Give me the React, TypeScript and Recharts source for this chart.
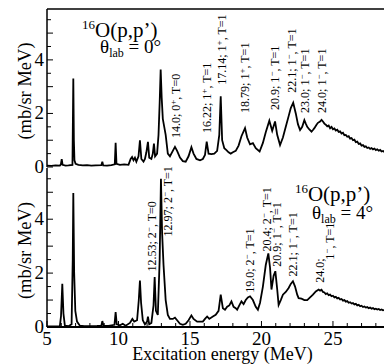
import { Line, LineChart, ReferenceDot, ReferenceLine, XAxis, YAxis } from "recharts";

// 16O(p,p') spectrum, theta_lab = 0 deg
const topEnergy = [
  5.0, 5.3, 5.6, 5.9, 5.97, 6.03, 6.09, 6.3, 6.5, 6.78, 6.84, 6.88, 6.92, 7.0, 7.2, 7.5, 7.8, 8.1, 8.4,
  8.8, 8.87, 8.93, 9.2, 9.5, 9.74, 9.8, 9.86, 10.1, 10.4, 10.7, 10.85, 10.95, 11.05, 11.15, 11.25, 11.4,
  11.5, 11.6, 11.75, 11.85, 11.95, 12.06, 12.15, 12.3, 12.4, 12.48, 12.56, 12.7, 12.8, 12.88, 12.95,
  13.02, 13.1, 13.2, 13.3, 13.45, 13.6, 13.8, 13.95, 14.1, 14.3, 14.5, 14.7, 14.9, 15.1, 15.25, 15.45,
  15.7, 15.9, 16.05, 16.17, 16.3, 16.5, 16.7, 16.9, 17.05, 17.15, 17.25, 17.4, 17.55, 17.7, 17.85, 18.0,
  18.2, 18.4, 18.6, 18.85, 19.0, 19.2, 19.4, 19.6, 19.87, 20.1, 20.3, 20.55, 20.75, 20.95, 21.1, 21.3,
  21.5, 21.7, 21.9, 22.05, 22.22, 22.4, 22.55, 22.7, 22.85, 23.0, 23.1, 23.2, 23.35, 23.5, 23.6, 23.7,
  23.85, 23.95, 24.1, 24.2, 24.3, 24.4, 24.5, 24.6, 24.7, 24.8, 24.9, 25.0, 25.1, 25.2, 25.3, 25.4,
  25.5, 25.6, 25.7, 25.8, 25.9, 26.0, 26.1, 26.2, 26.3, 26.4, 26.5, 26.6, 26.7, 26.8, 26.9, 27.0, 27.1,
  27.2, 27.3, 27.4, 27.5, 27.6, 27.7, 27.8, 27.9, 28.0, 28.1, 28.2, 28.3, 28.4, 28.5, 28.6,
];
const topYield = [
  0.05, 0.04, 0.06, 0.05, 0.1, 0.29, 0.08, 0.05, 0.06, 0.08, 3.3, 1.0, 0.25, 0.12, 0.08, 0.06, 0.07, 0.05, 0.06,
  0.07, 0.2, 0.06, 0.05, 0.07, 0.1, 0.9, 0.12, 0.08, 0.1, 0.08, 0.3, 0.37, 0.25, 0.35, 0.2, 0.4,
  1.0, 0.3, 0.2, 0.3, 0.55, 0.94, 0.35, 0.3, 0.5, 0.87, 0.4, 0.5, 1.2, 2.4, 3.64,
  2.6, 1.8, 1.5, 1.2, 0.5, 0.4, 0.6, 0.75, 0.6, 0.35, 0.22, 0.2, 0.4, 0.74, 0.5, 0.3,
  0.25, 0.3, 0.45, 0.95, 0.5, 0.48, 0.5, 0.6, 1.2, 2.64, 1.0, 0.7, 0.63, 0.55, 0.5, 0.55,
  0.6, 0.8, 1.15, 1.45, 1.1, 0.85, 0.89, 0.7, 0.58, 0.9, 1.3, 1.73, 1.35, 1.7, 1.2, 0.82,
  1.1, 1.5, 1.9, 2.2, 2.4, 2.0, 1.6, 1.38, 1.5, 1.75, 1.62, 1.5, 1.4, 1.32, 1.38, 1.45,
  1.58, 1.65, 1.7, 1.76, 1.7, 1.62, 1.58, 1.52, 1.55, 1.45, 1.5, 1.41, 1.44, 1.36, 1.39, 1.31,
  1.33, 1.25, 1.28, 1.19, 1.2, 1.13, 1.15, 1.06, 1.08, 1.0, 1.02, 0.93, 0.95, 0.86, 0.88, 0.8, 0.82,
  0.75, 0.77, 0.71, 0.73, 0.68, 0.71, 0.66, 0.69, 0.63, 0.66, 0.61, 0.64, 0.58, 0.6, 0.56,
];

// theta_lab = 4 deg
const bottomEnergy = [
  5.0, 5.5, 5.9, 5.98, 6.07, 6.15, 6.25, 6.5, 6.72, 6.8, 6.84, 6.9, 6.98, 7.1, 7.3, 7.6, 8.0, 8.5, 8.8,
  8.87, 8.95, 9.3, 9.72, 9.8, 9.88, 10.1, 10.3, 10.5, 10.8, 10.97, 11.1, 11.3, 11.42, 11.5, 11.58, 11.7,
  11.85, 12.0, 12.06, 12.15, 12.3, 12.45, 12.53, 12.62, 12.75, 12.88, 12.97, 13.05, 13.15, 13.3, 13.45,
  13.6, 13.8, 13.95, 14.1, 14.3, 14.5, 14.7, 14.9, 15.1, 15.25, 15.5, 15.7, 15.9, 16.05, 16.2, 16.35,
  16.6, 16.8, 17.0, 17.15, 17.3, 17.45, 17.6, 17.75, 17.9, 18.05, 18.2, 18.3, 18.45, 18.6, 18.75, 18.9,
  19.05, 19.2, 19.4, 19.6, 19.75, 19.9, 20.1, 20.3, 20.48, 20.6, 20.7, 20.85, 20.97, 21.1, 21.2, 21.35,
  21.5, 21.7, 21.9, 22.05, 22.2, 22.35, 22.5, 22.6, 22.8, 23.0, 23.2, 23.4, 23.6, 23.8, 24.0, 24.1,
  24.2, 24.3, 24.4, 24.5, 24.6, 24.7, 24.8, 24.9, 25.0, 25.1, 25.2, 25.3, 25.4, 25.5, 25.6, 25.7, 25.8,
  25.9, 26.0, 26.1, 26.2, 26.3, 26.4, 26.5, 26.6, 26.7, 26.8, 26.9, 27.0, 27.1, 27.2, 27.3, 27.4, 27.5,
  27.6, 27.7, 27.8, 27.9, 28.0, 28.1, 28.2, 28.3, 28.4, 28.5, 28.6,
];
const bottomYield = [
  0.02, 0.02, 0.03, 0.4, 1.6, 0.5, 0.05, 0.03, 0.1, 2.5, 4.97, 2.0, 0.6, 0.2, 0.05, 0.03, 0.03, 0.04, 0.05,
  0.22, 0.05, 0.04, 0.08, 0.55, 0.1, 0.06, 0.12, 0.05, 0.15, 0.3, 0.2, 0.25, 1.0, 1.72, 0.9, 0.25,
  0.1, 0.2, 0.38, 0.1, 0.15, 0.8, 1.85, 0.6, 0.45, 2.5, 5.5, 3.5, 2.3, 1.0, 0.45,
  0.3, 0.3, 0.35, 0.25, 0.12, 0.08, 0.12, 0.25, 0.43, 0.3, 0.2, 0.2, 0.2, 0.3, 0.39, 0.3,
  0.39, 0.45, 0.6, 1.2, 0.7, 0.64, 0.75, 0.8, 0.95, 0.75, 0.7, 0.64, 0.8, 0.95, 0.85, 1.0,
  1.1, 1.14, 1.0, 0.75, 0.64, 0.9, 1.5, 2.3, 2.73, 2.2, 1.39, 1.9, 2.07, 1.4, 0.82, 1.0,
  1.2, 1.3, 1.45, 1.6, 1.7, 1.5, 1.2, 1.07, 1.05, 1.0, 1.0, 1.1, 1.2, 1.32, 1.39, 1.35,
  1.38, 1.3, 1.28, 1.22, 1.25, 1.18, 1.2, 1.14, 1.16, 1.1, 1.12, 1.06, 1.08, 1.02, 1.04, 0.98, 1.0,
  0.94, 0.96, 0.9, 0.92, 0.87, 0.89, 0.84, 0.86, 0.8, 0.82, 0.77, 0.79, 0.74, 0.76, 0.72, 0.74, 0.7,
  0.72, 0.68, 0.7, 0.66, 0.68, 0.65, 0.67, 0.63, 0.65, 0.62, 0.63,
];

const xTicks = Array.from({ length: 24 }, (_, i) => 5 + i);
const xLabels = [5, 10, 15, 20, 25];
const yTicks = Array.from({ length: 12 }, (_, i) => i * 0.5);
const yLabels = [0, 2, 4];

// state labels: energy, label foot (mb/sr MeV), text, superscript, rest
const topStates = [
  { e: 14.02, v: 1.08, a: "14.0; 0", s: "+", b: ", T=0" },
  { e: 16.19, v: 1.27, a: "16.22; 1", s: "+", b: ", T=1" },
  { e: 17.22, v: 3.07, a: "17.14; 1", s: "+", b: ", T=1" },
  { e: 18.85, v: 2.02, a: "18.79; 1", s: "+", b: ", T=1" },
  { e: 20.94, v: 2.13, a: "20.9; 1", s: "−", b: ", T=1" },
  { e: 22.13, v: 2.77, a: "22.1; 1", s: "−", b: ", T=1" },
  { e: 23.04, v: 2.02, a: "23.0; 1", s: "−", b: ", T=1" },
  { e: 24.23, v: 2.02, a: "24.0; 1", s: "−", b: ", T=1" },
];
const bottomStates = [
  { e: 12.34, v: 2.06, a: "12.53; 2", s: "−", b: ", T=0" },
  { e: 13.46, v: 3.36, a: "12.97; 2", s: "−", b: ", T=1" },
  { e: 19.2, v: 1.27, a: "19.0; 2", s: "−", b: ", T=1" },
  { e: 20.38, v: 2.8, a: "20.4; 2", s: "−", b: ", T=1" },
  { e: 21.08, v: 2.24, a: "20.9; 1", s: "−", b: ", T=1" },
  { e: 22.2, v: 1.87, a: "22.1; 1", s: "−", b: ", T=1" },
  { e: 24.08, v: 1.64, a: "24.0;", s: "", b: "" },
  { e: 24.8, v: 2.5, a: "1", s: "−", b: ", T=1" },
];

const topData = topEnergy.map((e, i) => ({ e, v: topYield[i] }));
const bottomData = bottomEnergy.map((e, i) => ({ e, v: bottomYield[i] }));

const X_MAX = 28.57;
const Y_MAX = 5.9;
const SERIF = "Liberation Serif";

const xTick = (showLabel: boolean) => (p: any) => {
  const major = p.payload.value % 5 === 0;
  return (
    <g>
      <line x1={p.x} x2={p.x} y1={p.y} y2={p.y - (major ? 6 : 4)} stroke="#000" />
      {showLabel && xLabels.includes(p.payload.value) && (
        <text x={p.x} y={p.y + 18} textAnchor="middle" fontFamily={SERIF} fontSize={19} fill="#000">
          {p.payload.value}
        </text>
      )}
    </g>
  );
};

const yTick = (p: any) => {
  const v = p.payload.value;
  const major = v % 1 === 0;
  return (
    <g>
      <line x1={p.x} x2={p.x + (major ? 6 : 4)} y1={p.y} y2={p.y} stroke="#000" />
      {yLabels.includes(v) && (
        <text x={p.x - 3} y={p.y + 6} textAnchor="end" fontFamily={SERIF} fontSize={19} fill="#000">
          {v}
        </text>
      )}
    </g>
  );
};

const yTitle = (p: any) => {
  const cy = p.viewBox.y + p.viewBox.height / 2 + 3;
  return (
    <text x={31} y={cy} transform={`rotate(-90 31 ${cy})`} textAnchor="middle" fontFamily={SERIF} fontSize={18.5} fill="#000">
      (mb/sr MeV)
    </text>
  );
};

const stateTag = (st: any) => (p: any) => (
  <text
    x={p.cx + 4}
    y={p.cy}
    transform={`rotate(-90 ${p.cx + 4} ${p.cy})`}
    fontFamily={SERIF}
    fontSize={12}
    fill="#000"
  >
    {st.a}
    {st.s && (
      <tspan dy={-4} fontSize={9}>
        {st.s}
      </tspan>
    )}
    {st.b && <tspan dy={st.s ? 4 : 0}>{st.b}</tspan>}
  </text>
);

const reaction = (p: any) => (
  <text x={p.cx} y={p.cy} fontFamily={SERIF} fontSize={21} fill="#000">
    <tspan fontSize={13} dy={-8}>
      16
    </tspan>
    <tspan dy={8}>O(p,p’)</tspan>
  </text>
);

const angle = (deg: string) => (p: any) => (
  <text x={p.cx} y={p.cy} fontFamily={SERIF} fontSize={19} fill="#000">
    θ
    <tspan fontSize={12} dy={4}>
      lab
    </tspan>
    <tspan dy={-4}> = {deg}°</tspan>
  </text>
);

export default function App() {
  return (
    <div style={{ position: "absolute", left: 0, top: 0, width: 384, height: 364, background: "#fff", fontFamily: "'Liberation Serif', serif", overflow: "hidden" }}>
      <div style={{ position: "absolute", left: 0, top: 0 }}>
        <LineChart width={384} height={178} data={topData} margin={{ top: 9, right: 0, bottom: 11, left: 0 }}>
          <XAxis dataKey="e" type="number" domain={[5, X_MAX]} allowDataOverflow ticks={xTicks} interval={0} height={0}
            tickSize={0} tickMargin={0} tickLine={false} tick={xTick(false)} axisLine={{ stroke: "#000", strokeWidth: 2 }} />
          <YAxis type="number" domain={[0, Y_MAX]} allowDataOverflow ticks={yTicks} interval={0} width={47}
            tickSize={0} tickMargin={0} tickLine={false} tick={yTick} axisLine={{ stroke: "#000", strokeWidth: 1.5 }}
            label={{ content: yTitle }} />
          <ReferenceLine y={Y_MAX} stroke="#000" strokeWidth={1.5} />
          <Line dataKey="v" type="linear" stroke="#000" strokeWidth={1.8} dot={false} isAnimationActive={false} />
          <ReferenceDot x={7.45} y={4.86} r={1} shape={reaction} />
          <ReferenceDot x={8.71} y={4.26} r={1} shape={angle("0")} />
          {topStates.map((st) => (
            <ReferenceDot key={st.a} x={st.e} y={st.v} r={1} shape={stateTag(st)} />
          ))}
        </LineChart>
      </div>
      <div style={{ position: "absolute", left: 0, top: 167 }}>
        <LineChart width={384} height={197} data={bottomData} margin={{ top: 1, right: 0, bottom: 0, left: 0 }}>
          <XAxis dataKey="e" type="number" domain={[5, X_MAX]} allowDataOverflow ticks={xTicks} interval={0} height={37}
            tickSize={0} tickMargin={0} tickLine={false} tick={xTick(true)} axisLine={{ stroke: "#000", strokeWidth: 2 }}
            label={{
              content: (p: any) => (
                <text x={p.viewBox.x + p.viewBox.width / 2 + 7} y={p.viewBox.y + 33} textAnchor="middle" fontFamily={SERIF} fontSize={18} fill="#000">
                  Excitation energy (MeV)
                </text>
              ),
            }} />
          <YAxis type="number" domain={[0, Y_MAX]} allowDataOverflow ticks={yTicks} interval={0} width={47}
            tickSize={0} tickMargin={0} tickLine={false} tick={yTick} axisLine={{ stroke: "#000", strokeWidth: 1.5 }}
            label={{ content: yTitle }} />
          <Line dataKey="v" type="linear" stroke="#000" strokeWidth={1.8} dot={false} isAnimationActive={false} />
          <ReferenceDot x={22.34} y={4.67} r={1} shape={reaction} />
          <ReferenceDot x={23.53} y={4.0} r={1} shape={angle("4")} />
          {bottomStates.map((st) => (
            <ReferenceDot key={st.a} x={st.e} y={st.v} r={1} shape={stateTag(st)} />
          ))}
        </LineChart>
      </div>
    </div>
  );
}
